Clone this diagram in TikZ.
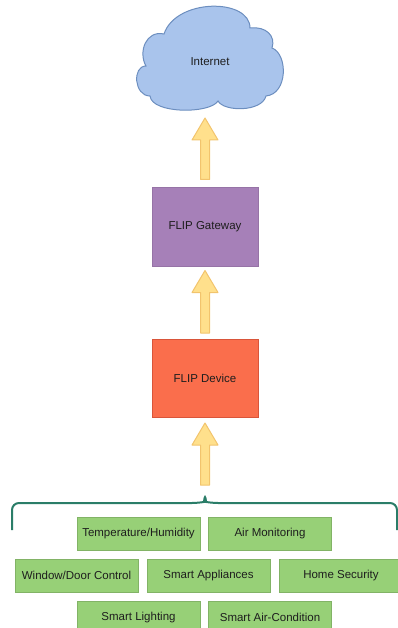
\documentclass[tikz,border=0pt]{standalone}
\usepackage{fontspec}
\setmainfont{Liberation Sans}
\usetikzlibrary{calc}
\definecolor{cloudfill}{HTML}{A9C4EC}
\definecolor{cloudline}{HTML}{6C8EBF}
\definecolor{gwfill}{HTML}{A680B8}
\definecolor{gwline}{HTML}{9673A6}
\definecolor{devfill}{HTML}{FA6E4C}
\definecolor{devline}{HTML}{D9553A}
\definecolor{arrfill}{HTML}{FFE08C}
\definecolor{arrline}{HTML}{F2C46D}
\definecolor{sensfill}{HTML}{97D077}
\definecolor{sensline}{HTML}{82B366}
\definecolor{braceline}{HTML}{2A7D68}
\definecolor{txt}{HTML}{1E1E1E}
\tikzset{
  lbl/.style={font=\fontsize{11.5}{13}\selectfont, text=txt, inner sep=0pt},
  mainbox/.style={lbl, draw, line width=1pt, minimum width=106, minimum height=78},
  sensor/.style={lbl, draw=sensline, fill=sensfill, line width=1pt, minimum width=123, minimum height=33},
  fatarrow/.style={draw=arrline, fill=arrfill, line width=1pt, line join=round}
}
\newcommand{\fatarrow}[2]{%
  \filldraw[fatarrow] ($(#1)+(-4.5,0)$) -- ($(#2)+(-4.5,22)$) -- ($(#2)+(-13,22)$) -- (#2)
    -- ($(#2)+(13,22)$) -- ($(#2)+(4.5,22)$) -- ($(#1)+(4.5,0)$) -- cycle;}
\begin{document}
\begin{tikzpicture}[x=1pt,y=-1pt]
\useasboundingbox (0,0) rectangle (398,628);
\filldraw[draw=cloudline, fill=cloudfill, line width=1pt]
  (146,66) .. controls (138,52) and (146,30) .. (164,34)
  .. controls (176,-2) and (250,-2) .. (250,28)
  .. controls (266,26) and (276,36) .. (272,48)
  .. controls (288,54) and (288,94) .. (266,96)
  .. controls (262,112) and (224,112) .. (218,101)
  .. controls (210,114) and (152,114) .. (150,96)
  .. controls (134,96) and (132,66) .. (146,66) -- cycle;
\node[lbl] (inet) at (210,62) {Internet};
\coordinate (cloudbase) at (205,108);
\node[mainbox, draw=gwline, fill=gwfill] (gw) at (205,227) {FLIP Gateway};
\node[mainbox, draw=devline, fill=devfill] (dev) at (205,378.5) {FLIP Device};
\coordinate (bracetip) at (205,493);
\fatarrow{$(gw.north)+(0,-8)$}{$(cloudbase)+(0,10)$}
\fatarrow{$(dev.north)+(0,-6)$}{$(gw.south)+(0,4)$}
\fatarrow{$(bracetip)+(0,-8)$}{$(dev.south)+(0,5)$}
\draw[braceline, line width=2pt, rounded corners=7pt] (12,530) -- (12,503) -- (199,503)
  .. controls (204,502) .. (bracetip) .. controls (206,502) .. (211,503) -- (397,503) -- (397,530);
\node[sensor] (temp) at (138.5,534) {Temperature/Humidity};
\node[sensor] (air) at (270,534) {Air Monitoring};
\node[sensor] (window) at (76.5,575.5) {Window/Door Control};
\node[sensor] (appl) at (208.5,575.5) {Smart Appliances};
\node[sensor] (secur) at (341,575.5) {Home Security};
\node[sensor] (light) at (138.5,617.5) {Smart Lighting};
\node[sensor] (aircon) at (270,617.5) {Smart Air-Condition};
\end{tikzpicture}
\end{document}
